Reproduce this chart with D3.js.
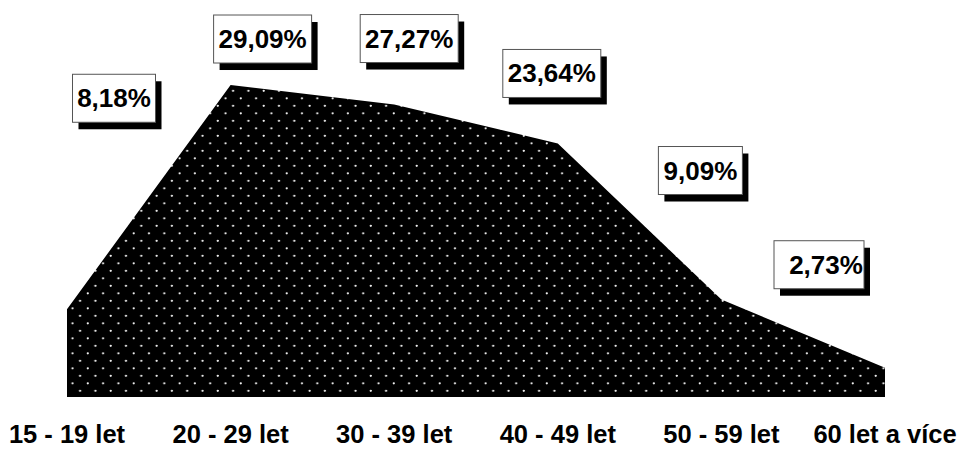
<!DOCTYPE html>
<meta charset="utf-8">
<script src="https://d3js.org/d3.v7.min.js"></script>
<style>
  body { margin: 0; background: #fff; }
  text { font-family: "Liberation Sans", Arial, sans-serif; font-weight: bold; }
</style>
<body>
<script>

// age groups and share of respondents (%)
var categories = ["15 - 19 let", "20 - 29 let", "30 - 39 let", "40 - 49 let", "50 - 59 let", "60 let a více"];
var values = [8.18, 29.09, 27.27, 23.64, 9.09, 2.73];
var valueLabels = ["8,18%", "29,09%", "27,27%", "23,64%", "9,09%", "2,73%"];

// where each label box sits, relative to its point (placed by hand in the original)
var labelOffsets = [[47, -211], [32, -46], [15, -66], [-6, -70], [-21, -129], [-66, -103]];
var labelBoxW = [83, 98, 98, 98, 84, 90];

var width = 960, height = 449;

var svg = d3.select("body")
  .append("svg")
    .attr("width", width)
    .attr("height", height);

// dotted fill
var defs = svg.append("defs");
var pat = defs.append("pattern")
    .attr("id", "dots")
    .attr("patternUnits", "userSpaceOnUse")
    .attr("width", 15.3)
    .attr("height", 15);
pat.append("rect").attr("width", 15.3).attr("height", 15).attr("fill", "#000");
pat.append("circle").attr("cx", 3.6).attr("cy", 0.8).attr("r", 1.1).attr("fill", "#f0f0f0");
pat.append("circle").attr("cx", 11.3).attr("cy", 8.3).attr("r", 1.1).attr("fill", "#f0f0f0");
pat.append("circle").attr("cx", 3.6).attr("cy", 15.8).attr("r", 1.1).attr("fill", "#f0f0f0");

var x = d3.scalePoint()
    .domain(categories)
    .range([67, 885]);

var y = d3.scaleLinear()
    .domain([0, 30])
    .range([397, 75.25]);

var data = categories.map(function(c, i) { return {cat: c, v: values[i], label: valueLabels[i]}; });

var area = d3.area()
    .x(function(d) { return x(d.cat); })
    .y0(y(0))
    .y1(function(d) { return y(d.v); });

svg.append("path")
    .datum(data)
    .attr("d", area)
    .attr("fill", "url(#dots)");

// category labels along the bottom
svg.append("g")
  .selectAll("text")
  .data(categories)
  .enter().append("text")
    .attr("x", function(d) { return x(d); })
    .attr("y", 443)
    .attr("text-anchor", "middle")
    .style("font-size", "25.5px")
    .text(function(d) { return d; });

// value labels in boxes with a drop shadow
var lab = svg.append("g")
  .selectAll("g")
  .data(data)
  .enter().append("g")
    .attr("transform", function(d, i) {
      return "translate(" + (x(d.cat) + labelOffsets[i][0]) + "," + (y(d.v) + labelOffsets[i][1]) + ")";
    });

lab.append("rect")
    .attr("x", function(d, i) { return -labelBoxW[i] / 2 + 6; })
    .attr("y", -24 + 7)
    .attr("width", function(d, i) { return labelBoxW[i]; })
    .attr("height", 48)
    .attr("fill", "#000");

lab.append("rect")
    .attr("x", function(d, i) { return -labelBoxW[i] / 2; })
    .attr("y", -24)
    .attr("width", function(d, i) { return labelBoxW[i]; })
    .attr("height", 48)
    .attr("fill", "#fff")
    .attr("stroke", "#555")
    .attr("stroke-width", 1);

lab.append("text")
    .attr("x", function(d, i) { return i == 5 ? 7 : 0; })
    .attr("y", 9)
    .attr("text-anchor", "middle")
    .style("font-size", "26px")
    .text(function(d) { return d.label; });

</script>
</body>
